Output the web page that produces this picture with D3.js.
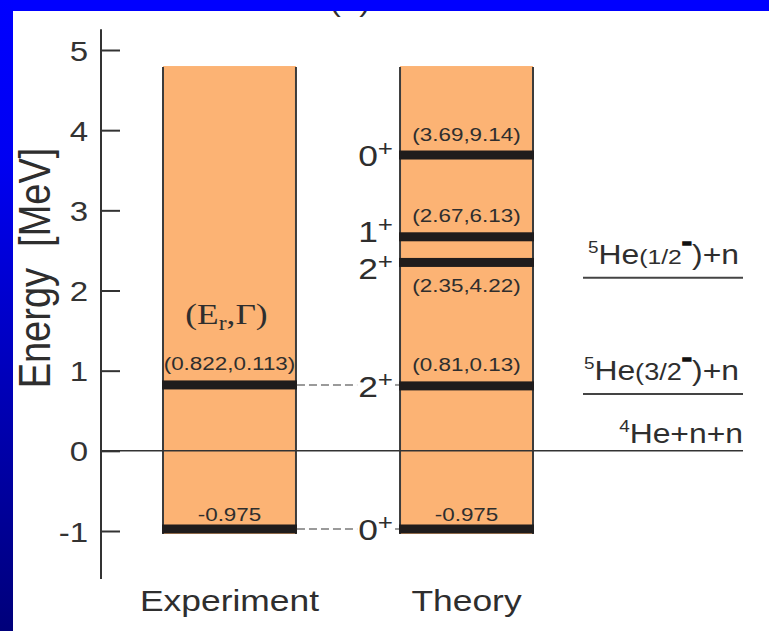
<!DOCTYPE html>
<html>
<head>
<meta charset="utf-8">
<script src="https://cdn.jsdelivr.net/npm/d3@7"></script>
<style>
  html, body { margin: 0; padding: 0; background: #fff; }
  svg { display: block; font-family: "Liberation Sans", Arial, Helvetica, sans-serif; }
</style>
</head>
<body>
<svg id="chart" width="769" height="631"></svg>
<script>
// 6He spectrum: energies in MeV relative to the 4He+n+n threshold
const columns = ["Experiment", "Theory"];
const yTicks = [-1, 0, 1, 2, 3, 4, 5];

const expEnergy = [-0.975, 0.822];
const expWidth  = [null, 0.113];
const expSpin   = ["0+", "2+"];

const theoryEnergy = [-0.975, 0.81, 2.35, 2.67, 3.69];
const theoryWidth  = [null, 0.13, 4.22, 6.13, 9.14];
const theorySpin   = ["0+", "2+", "2+", "1+", "0+"];

// breakup thresholds
const thresholdEnergy = [0, 0.71, 2.16];
const thresholdMass   = ["4", "5", "5"];
const thresholdState  = [null, "3/2", "1/2"];
const thresholdRest   = ["+n+n", "+n", "+n"];

const barTopEnergy = 4.8;
const axisSpan = [-1.6, 5.26];

// ---- layout ----
const W = 769, H = 631;
const SX = 1.18;              // horizontal glyph stretch
const axisX = 101;
const lineRight = 743;
const threshLeft = 583;
const bandH = 9;
const ink = "#2e2e2e";

const svg = d3.select("#chart");

const x = d3.scaleBand().domain(columns).range([163, 533]).paddingInner(0.439).paddingOuter(0);
const y = d3.scaleLinear().domain([-1, 5]).range([531, 50]);

function place(sel, px, py) {
  return sel.attr("transform", `translate(${px},${py}) scale(${SX},1)`);
}

const defs = svg.append("defs");
const grad = defs.append("linearGradient").attr("id", "edge")
  .attr("x1", 0).attr("y1", 0).attr("x2", 0).attr("y2", 1);
grad.append("stop").attr("offset", "0").attr("stop-color", "#0000ff");
grad.append("stop").attr("offset", "0.25").attr("stop-color", "#0000f2");
grad.append("stop").attr("offset", "1").attr("stop-color", "#00007a");

svg.append("rect").attr("width", W).attr("height", H).attr("fill", "#fff");

// panel title (mostly hidden under the top band)
place(svg.append("text"), 350, 11)
  .attr("text-anchor", "middle").attr("font-size", 28).attr("fill", ink).text("(a)");

// columns
const cols = [
  { name: "Experiment", E: expEnergy, G: expWidth, J: expSpin },
  { name: "Theory", E: theoryEnergy, G: theoryWidth, J: theorySpin }
];

cols.forEach(c => {
  const x0 = x(c.name), bw = x.bandwidth();
  const bottom = y(d3.min(c.E)) + bandH / 2 + 0.5;
  svg.append("rect")
    .attr("x", x0).attr("y", y(barTopEnergy))
    .attr("width", bw).attr("height", bottom - y(barTopEnergy))
    .attr("fill", "#fcb374");
  [x0, x0 + bw].forEach(xx => {
    svg.append("line")
      .attr("x1", xx).attr("x2", xx)
      .attr("y1", y(barTopEnergy) + 1).attr("y2", bottom)
      .attr("stroke", "#3c3c3c").attr("stroke-width", 2);
  });
});

// threshold lines
thresholdEnergy.forEach((e, i) => {
  const isZero = e === 0;
  svg.append("line")
    .attr("x1", isZero ? axisX : threshLeft).attr("x2", lineRight)
    .attr("y1", y(e)).attr("y2", y(e))
    .attr("stroke", isZero ? "#333" : "#444")
    .attr("stroke-width", isZero ? 1.5 : 2);

  const t = place(svg.append("text"), isZero ? lineRight : lineRight - 4, y(e) - (isZero ? 8 : 14))
    .attr("text-anchor", "end").attr("fill", ink);
  t.append("tspan").attr("font-size", 16).attr("dy", -11).text(thresholdMass[i]);
  if (thresholdState[i]) {
    t.append("tspan").attr("font-size", 27).attr("dy", 11).text("He");
    t.append("tspan").attr("font-size", thresholdState[i] === "1/2" ? 21 : 23).text("(" + thresholdState[i]);
    t.append("tspan").attr("font-size", 26).attr("font-weight", "bold")
      .attr("stroke", "#111").attr("stroke-width", 1.3).attr("fill", "#111")
      .attr("dy", -14).text("-");
    t.append("tspan").attr("font-size", 27).attr("dy", 14).text(")" + thresholdRest[i]);
  } else {
    t.append("tspan").attr("font-size", 27).attr("dy", 11).text("He" + thresholdRest[i]);
  }
});

// levels and their (E_r, Gamma) labels
cols.forEach(c => {
  const x0 = x(c.name), bw = x.bandwidth(), xc = x0 + bw / 2;
  const lowest = d3.min(c.E);
  c.E.forEach((e, i) => {
    const yc = y(e);
    svg.append("rect")
      .attr("x", x0 - 1).attr("y", yc - bandH / 2)
      .attr("width", bw + 2).attr("height", bandH)
      .attr("fill", "#1f1c1c");

    const crowdedAbove = c.E.some(o => o > e && o - e < 0.5);
    let base;
    if (crowdedAbove) base = yc + bandH / 2 + 25;
    else if (e === lowest) base = yc - bandH / 2 - 3;
    else base = yc - bandH / 2 - 10;
    const txt = c.G[i] == null ? String(e) : `(${e},${c.G[i]})`;
    place(svg.append("text"), xc, base)
      .attr("text-anchor", "middle").attr("font-size", 19).attr("fill", ink)
      .text(txt);
  });
});

// (E_r, Gamma) header over the experimental column
{
  const xc = x("Experiment") + x.bandwidth() / 2 - 3;
  const t = place(svg.append("text"), xc, y(d3.max(expEnergy)) - 61)
    .attr("text-anchor", "middle").attr("fill", ink)
    .attr("font-family", "'Liberation Serif','Times New Roman',serif").attr("font-size", 30);
  t.append("tspan").text("(E");
  t.append("tspan").attr("font-size", 20).attr("dy", 6).text("r");
  t.append("tspan").attr("dy", -6).text(",\u0393)");
}

// spin-parity labels left of the theory column, spread apart when crowded
const thX = x("Theory");
const minGap = 37;
const spinItems = theoryEnergy.map((e, i) => ({ e, J: theorySpin[i], c: y(e) }))
  .sort((a, b) => a.c - b.c);
for (let k = 0; k < spinItems.length - 1; k++) {
  const d = spinItems[k + 1].c - spinItems[k].c;
  if (d < minGap) {
    const s = (minGap - d) / 2;
    spinItems[k].c -= s;
    spinItems[k + 1].c += s;
  }
}
const spinRight = thX - 7;
spinItems.forEach(s => {
  const t = place(svg.append("text"), spinRight, s.c + 11)
    .attr("text-anchor", "end").attr("fill", ink);
  t.append("tspan").attr("font-size", 30).text(s.J.slice(0, -1));
  t.append("tspan").attr("font-size", 22).attr("dy", -10).text(s.J.slice(-1));
  s.node = t.node();
});

// dashed connectors from measured levels to the matching calculated ones
const expRight = x("Experiment") + x.bandwidth();
expEnergy.forEach((e, i) => {
  const match = spinItems
    .filter(s => s.J === expSpin[i])
    .sort((a, b) => Math.abs(a.e - e) - Math.abs(b.e - e))[0];
  const bb = match.node.getBoundingClientRect();
  const yy = y(e);
  const dash = (x1, x2) => svg.append("line")
    .attr("x1", x1).attr("x2", x2).attr("y1", yy).attr("y2", yy)
    .attr("stroke", "#9a9a9a").attr("stroke-width", 2).attr("stroke-dasharray", "8,4");
  dash(expRight + 1, bb.left - 1);
  dash(bb.right + 2, thX - 1);
});

// column names
columns.forEach(c => {
  place(svg.append("text"), x(c) + x.bandwidth() / 2, 611)
    .attr("text-anchor", "middle").attr("font-size", 30).attr("fill", ink).text(c);
});

// energy axis
const axis = svg.append("g").attr("transform", `translate(${axisX},0)`)
  .call(d3.axisLeft(y).tickValues(yTicks).tickFormat(d => String(d))
    .tickSize(-19).tickSizeOuter(0).tickPadding(13));
axis.select(".domain").remove();
axis.selectAll(".tick line").attr("stroke", "#333").attr("stroke-width", 2);
axis.selectAll(".tick text")
  .attr("x", null).attr("dy", "0.36em")
  .attr("transform", `translate(-13,0) scale(${SX},1)`)
  .attr("font-size", 28).attr("fill", "#333")
  .attr("font-family", "'Liberation Sans',Arial,sans-serif");
axis.append("line")
  .attr("x1", 0).attr("x2", 0)
  .attr("y1", y(axisSpan[1])).attr("y2", y(axisSpan[0]))
  .attr("stroke", "#333").attr("stroke-width", 2);

svg.append("text")
  .attr("transform", `translate(50,268) scale(${SX},1) rotate(-90)`)
  .attr("text-anchor", "middle").attr("font-size", 38).attr("fill", ink)
  .style("white-space", "pre")
  .text("Energy  [MeV]");

// slide frame
svg.append("rect").attr("x", 0).attr("y", 0).attr("width", W).attr("height", 11).attr("fill", "#0000ff");
svg.append("rect").attr("x", 0).attr("y", 0).attr("width", 13).attr("height", H).attr("fill", "url(#edge)");
</script>
</body>
</html>
